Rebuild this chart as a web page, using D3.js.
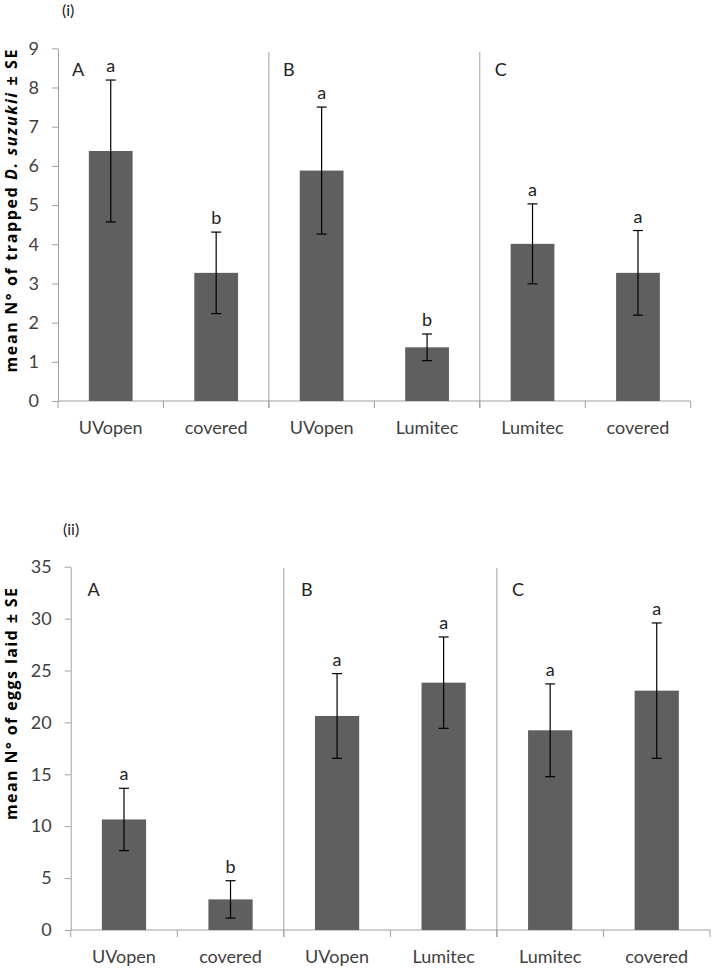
<!DOCTYPE html>
<html>
<head>
<meta charset="utf-8">
<script src="https://cdn.jsdelivr.net/npm/d3@7"></script>
<style>
  html, body { margin: 0; padding: 0; background: #fff; }
  svg { display: block; font-family: Lato, "Open Sans", sans-serif; }
</style>
</head>
<body>
<svg id="chart" width="712" height="969"></svg>
<script>
// ---- data ----
const categories = ["UVopen", "covered", "UVopen", "Lumitec", "Lumitec", "covered"];
const groupLabels = ["A", "B", "C"];

const trappedMeans = [6.38, 3.27, 5.88, 1.37, 4.01, 3.27];
const trappedSE = [1.81, 1.04, 1.62, 0.34, 1.02, 1.08];
const trappedLetters = ["a", "b", "a", "b", "a", "a"];
const trappedTicks = [0, 1, 2, 3, 4, 5, 6, 7, 8, 9];

const eggsMeans = [10.65, 2.95, 20.62, 23.83, 19.24, 23.06];
const eggsSE = [3.0, 1.8, 4.08, 4.4, 4.47, 6.52];
const eggsLetters = ["a", "b", "a", "a", "a", "a"];
const eggsTicks = [0, 5, 10, 15, 20, 25, 30, 35];

const svg = d3.select("#chart");
const axisColor = "#a0a0a0";
const textColor = "#404040";
const fs = 18;

function panel(cfg) {
  const g = svg.append("g");
  const x = d3.scaleBand().domain(d3.range(categories.length)).range([cfg.x0, cfg.x1]).paddingInner(0).paddingOuter(0);
  const y = d3.scaleLinear().domain([0, cfg.max]).range([cfg.yBottom, cfg.yTop]);
  const barW = x.bandwidth() * 0.415;

  // panel tag
  g.append("text").attr("x", cfg.tagX).attr("y", cfg.tagY).attr("font-size", 16).attr("fill", "#222").text(cfg.tag);

  // y axis
  const yAxis = d3.axisLeft(y).tickValues(cfg.ticks).tickSize(6).tickPadding(13).tickSizeOuter(0);
  const ya = g.append("g").attr("transform", `translate(${cfg.x0},0)`).call(yAxis);
  ya.select(".domain").attr("stroke", axisColor);
  ya.selectAll(".tick line").attr("stroke", axisColor);
  ya.selectAll(".tick text").attr("font-size", fs).attr("fill", textColor).attr("font-family", "Lato, sans-serif");

  // x axis line
  g.append("line").attr("x1", cfg.x0).attr("x2", cfg.x1).attr("y1", y(0)).attr("y2", y(0)).attr("stroke", axisColor);
  // boundary ticks
  const bounds = d3.range(categories.length + 1).map(i => i < categories.length ? x(i) : x(categories.length - 1) + x.bandwidth());
  g.selectAll(".btick").data(bounds).join("line")
    .attr("x1", d => d).attr("x2", d => d)
    .attr("y1", y(0)).attr("y2", y(0) + 7).attr("stroke", axisColor);

  // group separators
  [2, 4].forEach(i => {
    g.append("line").attr("x1", x(i)).attr("x2", x(i)).attr("y1", cfg.sepTop).attr("y2", y(0) + 7).attr("stroke", axisColor);
  });

  // group letters
  groupLabels.forEach((lab, k) => {
    g.append("text").attr("x", x(k * 2) + cfg.groupDx[k]).attr("y", cfg.groupY)
      .attr("text-anchor", "middle").attr("font-size", fs).attr("fill", "#222").text(lab);
  });

  // bars
  g.selectAll(".bar").data(cfg.means).join("rect")
    .attr("x", (d, i) => x(i) + x.bandwidth() / 2 - barW / 2)
    .attr("width", barW)
    .attr("y", d => y(d))
    .attr("height", d => y(0) - y(d))
    .attr("fill", "#5f5f5f");

  // error bars
  cfg.means.forEach((m, i) => {
    const cx = x(i) + x.bandwidth() / 2;
    const hi = y(m + cfg.se[i]), lo = y(m - cfg.se[i]);
    g.append("line").attr("x1", cx).attr("x2", cx).attr("y1", hi).attr("y2", lo).attr("stroke", "#000").attr("stroke-width", 1.2);
    [hi, lo].forEach(yy => g.append("line").attr("x1", cx - 5).attr("x2", cx + 5).attr("y1", yy).attr("y2", yy).attr("stroke", "#000").attr("stroke-width", 1.2));
    g.append("text").attr("x", cx).attr("y", hi - 8).attr("text-anchor", "middle").attr("font-size", fs).attr("fill", "#222").text(cfg.letters[i]);
  });

  // category labels
  categories.forEach((c, i) => {
    g.append("text").attr("x", x(i) + x.bandwidth() / 2).attr("y", y(0) + 33)
      .attr("text-anchor", "middle").attr("font-size", fs).attr("fill", textColor).text(c);
  });

  // y title
  const t = g.append("text").attr("transform", `translate(${cfg.titleX},${cfg.titleY}) rotate(-90)`)
    .attr("text-anchor", "middle").attr("font-family", "'Open Sans', sans-serif")
    .attr("font-size", 16).attr("font-weight", "bold").attr("fill", "#000")
    .attr("textLength", cfg.titleLen).attr("lengthAdjust", "spacing");
  cfg.title.forEach(part => {
    t.append("tspan").attr("font-style", part.italic ? "italic" : "normal").text(part.text);
  });
}

panel({
  tag: "(i)", tagX: 62, tagY: 16,
  x0: 58, x1: 690.7, yTop: 48.3, yBottom: 401, max: 9, ticks: trappedTicks,
  means: trappedMeans, se: trappedSE, letters: trappedLetters,
  sepTop: 52, groupY: 76, groupDx: [20, 20, 21],
  titleX: 17, titleY: 211, titleLen: 323,
  title: [{text: "mean N° of trapped "}, {text: "D. suzukii", italic: true}, {text: " ± SE"}]
});

panel({
  tag: "(ii)", tagX: 63, tagY: 535,
  x0: 70.7, x1: 710, yTop: 566.7, yBottom: 930, max: 35, ticks: eggsTicks,
  means: eggsMeans, se: eggsSE, letters: eggsLetters,
  sepTop: 568, groupY: 596, groupDx: [23, 23, 21],
  titleX: 17, titleY: 704, titleLen: 232,
  title: [{text: "mean N° of eggs laid ± SE"}]
});
</script>
</body>
</html>
